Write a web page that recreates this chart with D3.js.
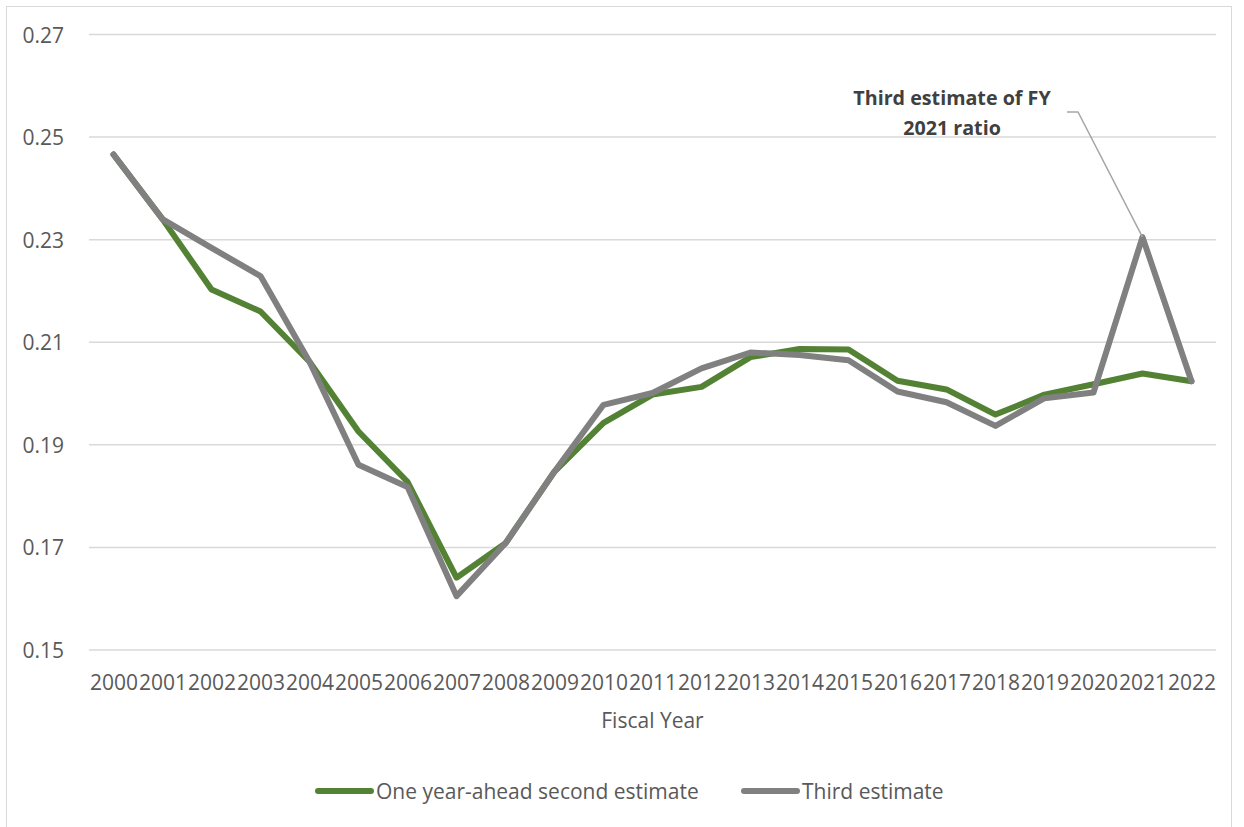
<!DOCTYPE html>
<html>
<head>
<meta charset="utf-8">
<script src="https://cdn.jsdelivr.net/npm/d3@7"></script>
<style>
  html, body { margin: 0; padding: 0; background: #ffffff; }
  svg { display: block; font-family: "Open Sans", sans-serif; }
</style>
</head>
<body>
<svg id="chart" width="1244" height="827"></svg>
<script>
// Fiscal years on the category axis
const years = ["2000","2001","2002","2003","2004","2005","2006","2007","2008","2009","2010",
               "2011","2012","2013","2014","2015","2016","2017","2018","2019","2020","2021","2022"];

// One year-ahead second estimate of the ratio
const secondEstimate = [0.2466, 0.2340, 0.2203, 0.2160, 0.2062, 0.1926, 0.1828, 0.1641, 0.1708, 0.1848,
                        0.1943, 0.1998, 0.2013, 0.2071, 0.2087, 0.2086, 0.2025, 0.2008, 0.1959, 0.1998,
                        0.2018, 0.2039, 0.2024];

// Third estimate of the ratio
const thirdEstimate = [0.2466, 0.2340, 0.2284, 0.2229, 0.2062, 0.1861, 0.1818, 0.1605, 0.1708, 0.1848,
                       0.1978, 0.2001, 0.2049, 0.2080, 0.2075, 0.2065, 0.2004, 0.1983, 0.1937, 0.1991,
                       0.2002, 0.2305, 0.2024];

const yTicks = [0.15, 0.17, 0.19, 0.21, 0.23, 0.25, 0.27];

const seriesNames = ["One year-ahead second estimate", "Third estimate"];
const seriesColors = ["#548235", "#808080"];

const svg = d3.select("#chart");
const plot = { left: 89, right: 1216, top: 34.5, bottom: 650 };

// chart area frame
svg.append("rect")
  .attr("x", 6.5).attr("y", 6.5)
  .attr("width", 1225).attr("height", 840)
  .attr("fill", "#ffffff")
  .attr("stroke", "#d9d9d9").attr("stroke-width", 1);

const x = d3.scalePoint().domain(years).range([plot.left, plot.right]).padding(0.5);
const y = d3.scaleLinear().domain([0.15, 0.27]).range([plot.bottom, plot.top]);

// horizontal gridlines
svg.append("g")
  .selectAll("line")
  .data(yTicks)
  .join("line")
  .attr("x1", plot.left).attr("x2", plot.right)
  .attr("y1", d => y(d)).attr("y2", d => y(d))
  .attr("stroke", "#d9d9d9").attr("stroke-width", 1.5);

// y axis labels
const yAxis = svg.append("g")
  .attr("transform", `translate(${plot.left - 25},0)`)
  .call(d3.axisLeft(y).tickValues(yTicks).tickFormat(d3.format(".2f")).tickSize(0).tickPadding(0));
yAxis.select(".domain").remove();
yAxis.selectAll("text")
  .attr("font-family", "Open Sans, sans-serif")
  .attr("font-size", 21)
  .attr("fill", "#595959")
  .attr("dy", "0.36em");

// x axis labels
const xAxis = svg.append("g")
  .attr("transform", `translate(0,${plot.bottom})`)
  .call(d3.axisBottom(x).tickSize(0).tickPadding(0));
xAxis.select(".domain").remove();
xAxis.selectAll("text")
  .attr("font-family", "Open Sans, sans-serif")
  .attr("font-size", 21)
  .attr("fill", "#595959")
  .attr("dy", null)
  .attr("y", 40);

// axis title
svg.append("text")
  .attr("x", (plot.left + plot.right) / 2)
  .attr("y", 728)
  .attr("text-anchor", "middle")
  .attr("font-size", 21)
  .attr("fill", "#595959")
  .text("Fiscal Year");

// series lines
const line = d3.line()
  .x((d, i) => x(years[i]))
  .y(d => y(d));

[secondEstimate, thirdEstimate].forEach((vals, k) => {
  svg.append("path")
    .datum(vals)
    .attr("d", line)
    .attr("fill", "none")
    .attr("stroke", seriesColors[k])
    .attr("stroke-width", 6)
    .attr("stroke-linejoin", "round")
    .attr("stroke-linecap", "round");
});

// callout for the FY 2021 third estimate
const idx2021 = years.indexOf("2021");
const px = x("2021"), py = y(thirdEstimate[idx2021]);
svg.append("polyline")
  .attr("points", [[1067, 112], [1078, 112], [px, py]].map(p => p.join(",")).join(" "))
  .attr("fill", "none")
  .attr("stroke", "#a6a6a6")
  .attr("stroke-width", 1.5);

const note = svg.append("text")
  .attr("text-anchor", "middle")
  .attr("font-size", 19.7)
  .attr("font-weight", "bold")
  .attr("fill", "#404040");
note.append("tspan").attr("x", 952).attr("y", 105).text("Third estimate of FY");
note.append("tspan").attr("x", 952).attr("y", 135).text("2021 ratio");

// legend
const legendItems = [
  { name: seriesNames[0], color: seriesColors[0], x0: 318 },
  { name: seriesNames[1], color: seriesColors[1], x0: 744 }
];
const lg = svg.append("g");
legendItems.forEach(it => {
  lg.append("line")
    .attr("x1", it.x0).attr("x2", it.x0 + 53)
    .attr("y1", 791).attr("y2", 791)
    .attr("stroke", it.color).attr("stroke-width", 6)
    .attr("stroke-linecap", "round");
  lg.append("text")
    .attr("x", it.x0 + 58)
    .attr("y", 791)
    .attr("dy", "0.36em")
    .attr("font-size", 21)
    .attr("fill", "#595959")
    .text(it.name);
});
</script>
</body>
</html>
